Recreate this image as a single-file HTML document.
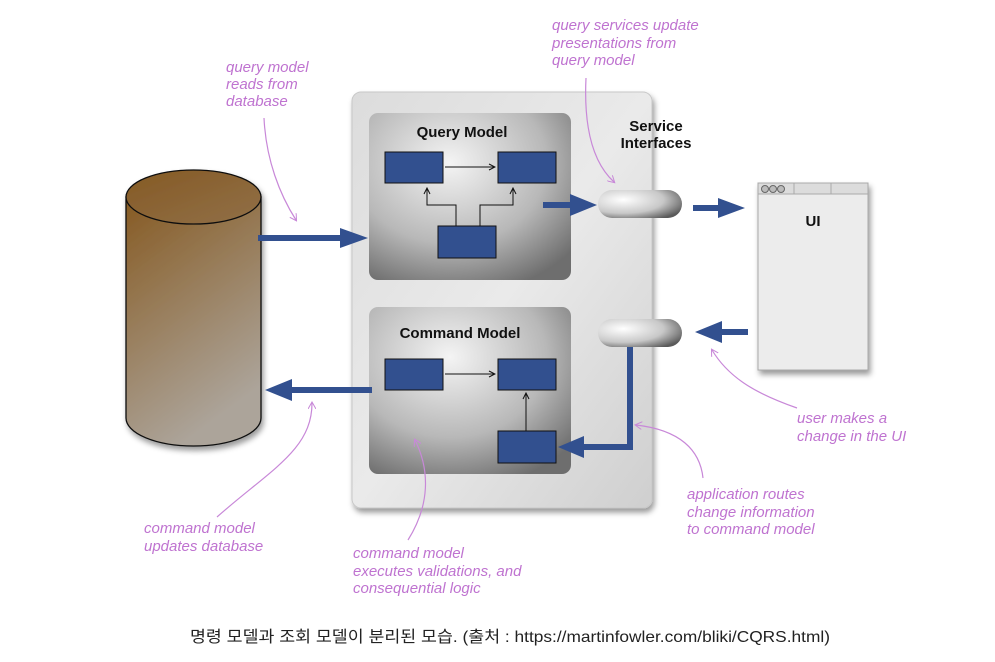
<!DOCTYPE html>
<html><head><meta charset="utf-8"><style>
html,body{margin:0;padding:0;background:#fff;width:995px;height:662px;overflow:hidden}
svg{display:block}
.lab{font-family:"Liberation Sans",sans-serif;font-style:italic;font-size:15px;fill:#bf73d0}
.ttl{font-family:"Liberation Sans",sans-serif;font-weight:bold;font-size:15px;fill:#111}
.cur{fill:none;stroke:#c888d8;stroke-width:1.2}
</style></head><body>
<svg width="995" height="662" viewBox="0 0 995 662" xmlns="http://www.w3.org/2000/svg">
<defs>
<linearGradient id="cyl" x1="0" y1="0" x2="0.4" y2="1">
<stop offset="0" stop-color="#865a22"/><stop offset="1" stop-color="#aca49a"/></linearGradient>
<linearGradient id="cyltop" x1="0" y1="0" x2="1" y2="1">
<stop offset="0" stop-color="#855a24"/><stop offset="1" stop-color="#917048"/></linearGradient>
<linearGradient id="panel" x1="0" y1="0" x2="1" y2="1">
<stop offset="0" stop-color="#dcdcdc"/><stop offset="0.5" stop-color="#eaeaea"/><stop offset="1" stop-color="#cfcfcf"/></linearGradient>
<radialGradient id="mod" cx="0.4" cy="0.3" r="0.8">
<stop offset="0" stop-color="#f4f4f4"/><stop offset="0.6" stop-color="#b8b8b8"/><stop offset="1" stop-color="#6e6e6e"/></radialGradient>
<radialGradient id="pill" cx="0.3" cy="0.35" r="0.8">
<stop offset="0" stop-color="#ffffff"/><stop offset="0.6" stop-color="#c8c8c8"/><stop offset="1" stop-color="#5a5a5a"/></radialGradient>
<filter id="sh" x="-10%" y="-10%" width="130%" height="130%"><feDropShadow dx="2" dy="4" stdDeviation="3" flood-opacity="0.4"/></filter>
<marker id="ah" markerWidth="8" markerHeight="8" refX="7" refY="4" orient="auto" markerUnits="userSpaceOnUse"><path d="M1,1 L7,4 L1,7" fill="none" stroke="#111" stroke-width="1"/></marker>
<marker id="pa" markerWidth="8" markerHeight="8" refX="6" refY="4" orient="auto" markerUnits="userSpaceOnUse"><path d="M0,0 L7,4 L0,8" fill="none" stroke="#c888d8" stroke-width="1"/></marker>
</defs>

<g filter="url(#sh)">
<path d="M126,197 L126,418 A67.5,28 0 0 0 261,418 L261,197 Z" fill="url(#cyl)" stroke="#111" stroke-width="1.3"/>
<ellipse cx="193.5" cy="197" rx="67.5" ry="27" fill="url(#cyltop)" stroke="#111" stroke-width="1.3"/>
</g>

<rect x="352" y="92" width="300" height="416" rx="9" fill="url(#panel)" stroke="#c8c8c8" filter="url(#sh)"/>
<rect x="369" y="113" width="202" height="167" rx="9" fill="url(#mod)"/>
<rect x="369" y="307" width="202" height="167" rx="9" fill="url(#mod)"/>
<text class="ttl" x="462" y="137" text-anchor="middle">Query Model</text>
<text class="ttl" x="460" y="338" text-anchor="middle">Command Model</text>
<text class="ttl" x="656" y="131" text-anchor="middle">Service</text>
<text class="ttl" x="656" y="148" text-anchor="middle">Interfaces</text>

<g fill="#32508f" stroke="#111" stroke-width="1">
<rect x="385" y="152" width="58" height="31"/><rect x="498" y="152" width="58" height="31"/><rect x="438" y="226" width="58" height="32"/>
<rect x="385" y="359" width="58" height="31"/><rect x="498" y="359" width="58" height="31"/><rect x="498" y="431" width="58" height="32"/>
</g>
<g stroke="#111" stroke-width="1" fill="none">
<line x1="445" y1="167" x2="495" y2="167" marker-end="url(#ah)"/>
<path d="M456,226 V205 H427 V188" marker-end="url(#ah)"/>
<path d="M480,226 V205 H513 V188" marker-end="url(#ah)"/>
<line x1="445" y1="374" x2="495" y2="374" marker-end="url(#ah)"/>
<line x1="526" y1="431" x2="526" y2="393" marker-end="url(#ah)"/>
</g>

<rect x="598" y="190" width="84" height="28" rx="14" fill="url(#pill)"/>
<rect x="598" y="319" width="84" height="28" rx="14" fill="url(#pill)"/>

<g filter="url(#sh)">
<rect x="758" y="183" width="110" height="187" fill="#ececec" stroke="#aaa"/>
<rect x="758" y="183" width="110" height="11" fill="#dcdcdc" stroke="#aaa"/>
<line x1="794" y1="183" x2="794" y2="194" stroke="#aaa"/><line x1="831" y1="183" x2="831" y2="194" stroke="#aaa"/>
<circle cx="765" cy="189" r="3.5" fill="#bbb" stroke="#666"/><circle cx="773" cy="189" r="3.5" fill="#bbb" stroke="#666"/><circle cx="781" cy="189" r="3.5" fill="#bbb" stroke="#666"/>
</g>
<text class="ttl" x="813" y="226" text-anchor="middle" font-size="15">UI</text>

<g fill="#32508f" stroke="none">
<path d="M258,235 H340 V228 L368,238 L340,248 V241 H258 Z"/>
<path d="M543,202 H570 V194 L597,205 L570,216 V208 H543 Z"/>
<path d="M693,205 H718 V198 L745,208 L718,218 V211 H693 Z"/>
<path d="M748,329 H722 V321 L695,332 L722,343 V335 H748 Z"/>
<path d="M372,387 H292 V379 L265,390 L292,401 V393 H372 Z"/>
<path d="M627,347 H633 V450 H584 V458 L558,447 L584,436 V444 H627 Z"/>
</g>

<text class="lab"><tspan x="226" y="72">query model</tspan><tspan x="226" y="89">reads from</tspan><tspan x="226" y="106">database</tspan></text>
<text class="lab"><tspan x="552" y="30">query services update</tspan><tspan x="552" y="48">presentations from</tspan><tspan x="552" y="65">query model</tspan></text>
<text class="lab"><tspan x="797" y="423">user makes a</tspan><tspan x="797" y="441">change in the UI</tspan></text>
<text class="lab"><tspan x="687" y="499">application routes</tspan><tspan x="687" y="517">change information</tspan><tspan x="687" y="534">to command model</tspan></text>
<text class="lab"><tspan x="144" y="533">command model</tspan><tspan x="144" y="551">updates database</tspan></text>
<text class="lab"><tspan x="353" y="558">command model</tspan><tspan x="353" y="576">executes validations, and</tspan><tspan x="353" y="593">consequential logic</tspan></text>

<g class="cur">
<path d="M264,118 C266,160 280,195 296,220" marker-end="url(#pa)"/>
<path d="M586,78 C584,120 590,160 614,182" marker-end="url(#pa)"/>
<path d="M797,408 C760,395 730,380 712,350" marker-end="url(#pa)"/>
<path d="M703,478 C700,450 680,430 636,425" marker-end="url(#pa)"/>
<path d="M217,517 C270,470 312,450 312,403" marker-end="url(#pa)"/>
<path d="M408,540 C430,505 430,470 415,440" marker-end="url(#pa)"/>
</g>

<text x="190" y="642" textLength="640" lengthAdjust="spacingAndGlyphs" font-family="'Liberation Sans','Noto Sans CJK KR',sans-serif" font-size="16" fill="#222">명령 모델과 조회 모델이 분리된 모습. (출처 : https://martinfowler.com/bliki/CQRS.html)</text>
</svg>
</body></html>
